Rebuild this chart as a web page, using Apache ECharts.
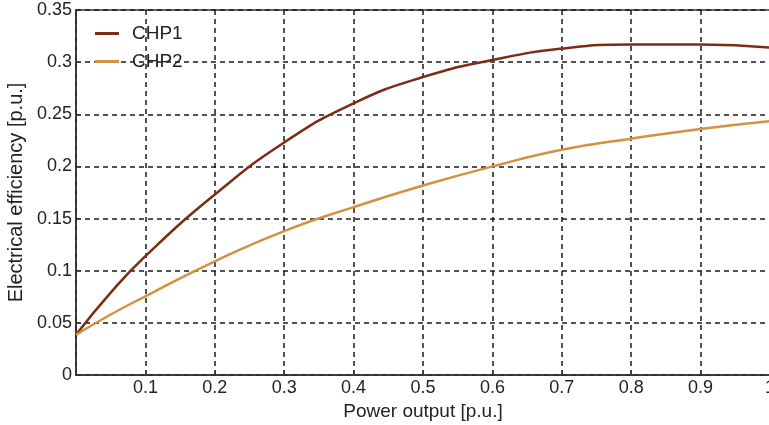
<!DOCTYPE html>
<html>
<head>
<meta charset="utf-8">
<style>
    html, body { margin: 0; padding: 0; background: #fff; }
    #chart { width: 769px; height: 425px; }
</style>
<script src="https://cdn.jsdelivr.net/npm/echarts@6/dist/echarts.min.js"></script>
</head>
<body>
<div id="chart"></div>
<script>
// power output [p.u.]
const powerOutput = [0, 0.05, 0.1, 0.2, 0.3, 0.4, 0.5, 0.6, 0.7, 0.8, 0.9, 1.0]
// electrical efficiency [p.u.]
const chp1 = [0.0386, 0.079, 0.114, 0.173, 0.223, 0.2605, 0.2857, 0.302, 0.313, 0.317, 0.317, 0.314]
const chp2 = [0.0386, 0.058, 0.0755, 0.109, 0.138, 0.161, 0.1817, 0.2, 0.216, 0.2266, 0.236, 0.2435]

const pairs = (ys) => powerOutput.map((x, i) => [x, ys[i]])

const chart = echarts.init(document.getElementById('chart'))

const gridDash = {
    show: true,
    lineStyle: { color: '#1a1a1a', type: [5, 4], width: 1.5 }
}

chart.setOption({
    backgroundColor: '#fff',
    animation: false,
    textStyle: { fontFamily: 'Liberation Sans' },
    legend: {
        orient: 'vertical',
        left: 90,
        top: 19,
        itemWidth: 24,
        itemHeight: 3,
        itemGap: 9,
        icon: 'rect',
        textStyle: { fontSize: 19, color: '#222', fontFamily: 'Liberation Sans', padding: [0, 0, 0, 8] },
        data: ['CHP1', 'CHP2']
    },
    grid: {
        left: 76,
        right: -1,
        top: 10,
        bottom: 50,
        outerBoundsMode: 'none',
        show: true,
        borderColor: '#333',
        borderWidth: 1.5
    },
    xAxis: {
        type: 'value',
        min: 0,
        max: 1,
        interval: 0.1,
        name: 'Power output [p.u.]',
        nameLocation: 'middle',
        nameGap: 27,
        nameTextStyle: { fontSize: 19, color: '#222' },
        axisLine: { lineStyle: { color: '#333', width: 1.5 } },
        axisTick: { inside: true, length: 5, lineStyle: { color: '#333' } },
        axisLabel: {
            fontSize: 18,
            color: '#222',
            margin: 4,
            formatter: (v) => (v === 0 ? '' : String(Math.round(v * 10) / 10))
        },
        splitLine: gridDash
    },
    yAxis: {
        type: 'value',
        min: 0,
        max: 0.35,
        interval: 0.05,
        name: 'Electrical efficiency [p.u.]',
        nameLocation: 'middle',
        nameGap: 44,
        nameTextStyle: { fontSize: 20, color: '#222' },
        axisLine: { show: true, lineStyle: { color: '#333', width: 1.5 } },
        axisTick: { show: true, inside: true, length: 5, lineStyle: { color: '#333' } },
        axisLabel: {
            fontSize: 18,
            color: '#222',
            margin: 4,
            formatter: (v) => String(Math.round(v * 100) / 100)
        },
        splitLine: gridDash
    },
    series: [
        {
            name: 'CHP1',
            type: 'line',
            smooth: true,
            showSymbol: false,
            lineStyle: { width: 2.5, color: '#7b2c14' },
            itemStyle: { color: '#7b2c14' },
            data: pairs(chp1)
        },
        {
            name: 'CHP2',
            type: 'line',
            smooth: true,
            showSymbol: false,
            lineStyle: { width: 2.5, color: '#d4913f' },
            itemStyle: { color: '#d4913f' },
            data: pairs(chp2)
        }
    ]
})
</script>
</body>
</html>
